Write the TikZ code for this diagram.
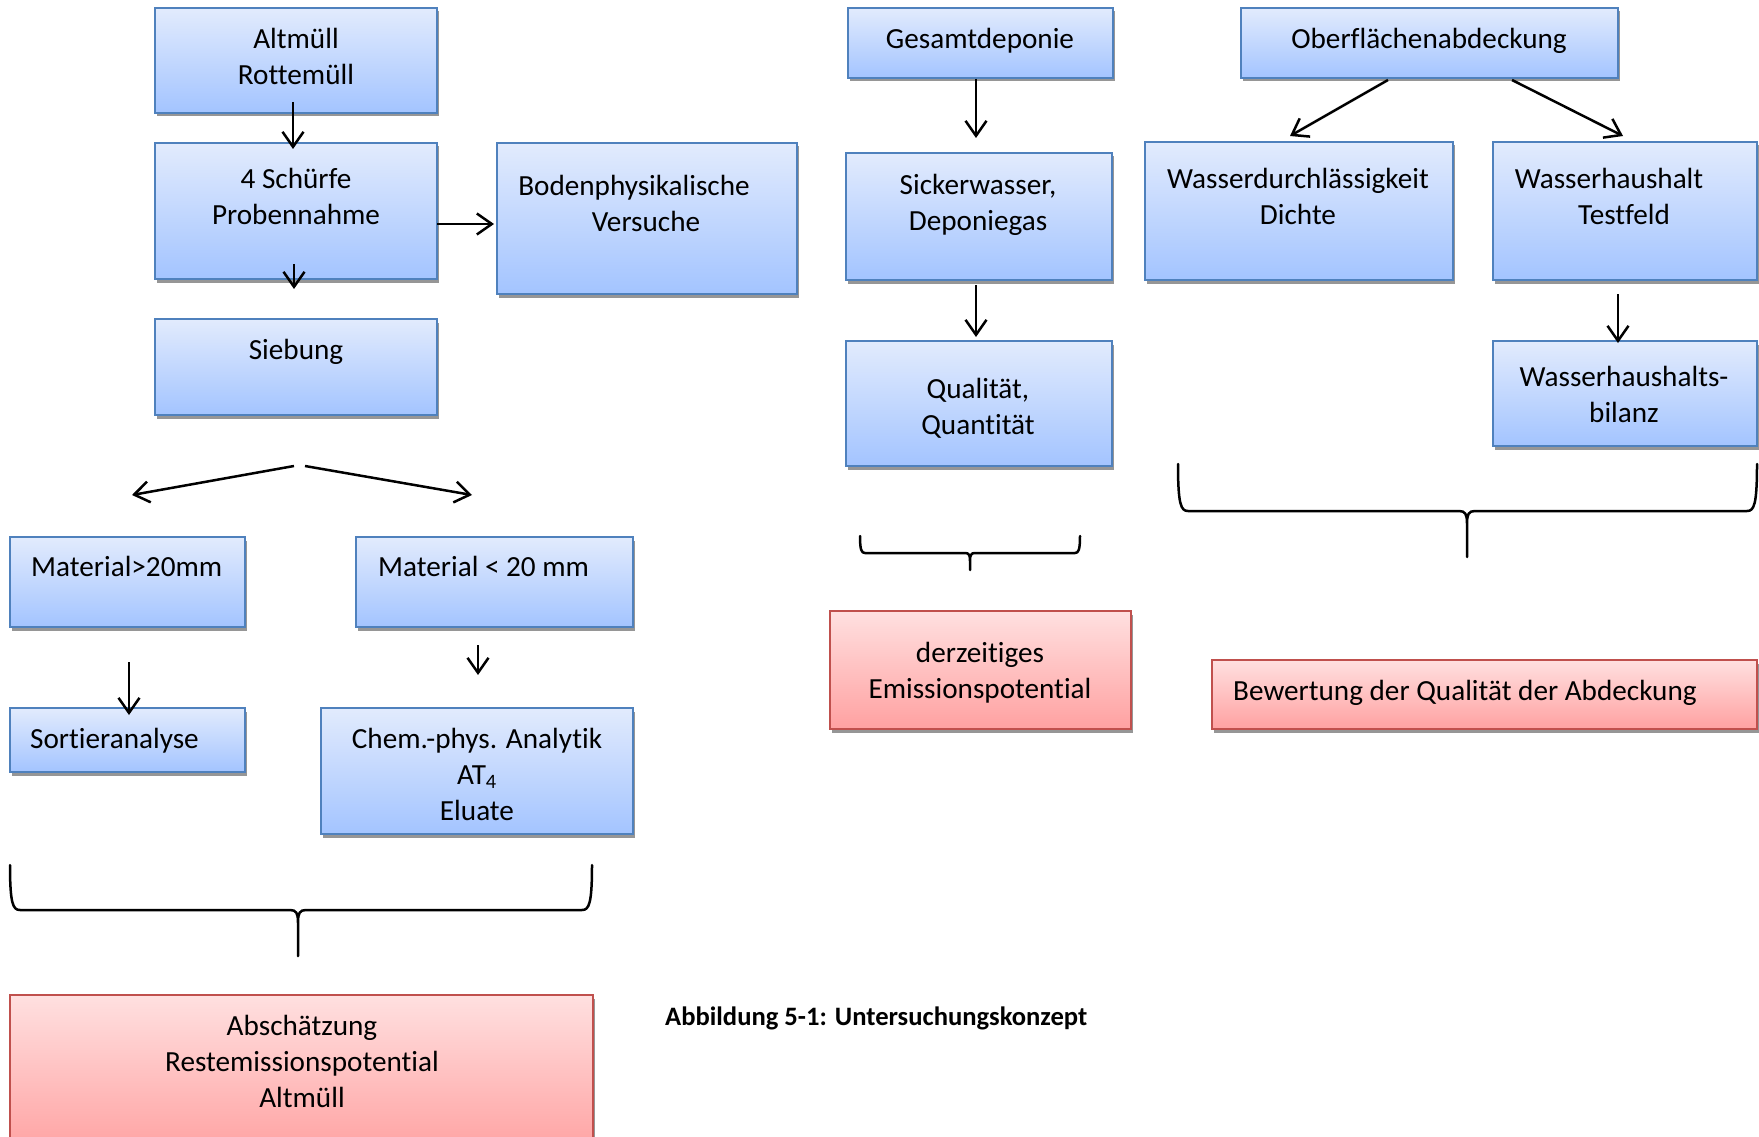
\documentclass[tikz,border=0pt]{standalone}
\usepackage{fontspec}
\setmainfont[Ligatures=NoCommon]{Carlito}
\usetikzlibrary{arrows.meta,calc,shadows}

\definecolor{boxline}{RGB}{79,129,189}
\definecolor{boxtop}{RGB}{226,235,253}
\definecolor{boxbot}{RGB}{163,196,255}
\definecolor{redline}{RGB}{192,80,77}
\definecolor{redtop}{RGB}{255,224,224}
\definecolor{redbot}{RGB}{255,161,161}
\definecolor{shadowgray}{RGB}{150,150,150}

\newcommand{\bodysize}{\fontsize{29.2pt}{36pt}\selectfont}
\newcommand{\captionsize}{\fontsize{26.6pt}{32pt}\selectfont\bfseries}

% curly brace: x-left, x-right, y-top, y-bar, x-tip, y-tip, corner, cusp
\newcommand{\curlybrace}[8]{%
  \draw[brace] (#1,#3) .. controls (#1,{#4-0.6*#7}) and ({#1+0.3*#7},#4) .. ({#1+#7},#4)
    -- ({#5-#8},#4) .. controls ({#5-0.2*#8},#4) and (#5,{#4+0.4*#8}) .. (#5,{#4+1.6*#8})
    -- (#5,#6) -- (#5,{#4+1.6*#8})
    .. controls (#5,{#4+0.4*#8}) and ({#5+0.2*#8},#4) .. ({#5+#8},#4)
    -- ({#2-#7},#4) .. controls ({#2-0.3*#7},#4) and (#2,{#4-0.6*#7}) .. (#2,#3);}

\tikzset{
  panel/.style={draw, line width=2pt, inner sep=0pt, outer sep=0pt, anchor=north west,
    drop shadow={shadow xshift=1.5pt, shadow yshift=-3.5pt, fill=shadowgray, draw=none, opacity=1}},
  bluebox/.style={panel, draw=boxline, top color=boxtop, bottom color=boxbot},
  redbox/.style={panel, draw=redline, top color=redtop, bottom color=redbot},
  txt/.style={anchor=north, inner sep=0pt, align=center, font=\bodysize, text=black},
  ltxt/.style={txt, anchor=north west, align=left},
  arr/.style={line width=2.5pt, -{Straight Barb[length=15pt,width=21pt]}},
  brace/.style={line width=2.5pt, line join=round, line cap=round},
}

\begin{document}
\begin{tikzpicture}[x=1pt,y=-1pt]
\fill[white] (0,0) rectangle (1759,1137);
\useasboundingbox (0,0) rectangle (1759,1137);

% left column
\node[bluebox, minimum width=282pt, minimum height=105pt] (altm) at (155,8) {};
\node[bluebox, minimum width=282pt, minimum height=136pt] (schuerfe) at (155,143) {};
\node[bluebox, minimum width=300pt, minimum height=151pt] (boden) at (497,143) {};
\node[bluebox, minimum width=282pt, minimum height=96pt] (sieb) at (155,319) {};
\node[bluebox, minimum width=235pt, minimum height=90pt] (grob) at (10,537) {};
\node[bluebox, minimum width=277pt, minimum height=90pt] (fein) at (356,537) {};
\node[bluebox, minimum width=235pt, minimum height=64pt] (sort) at (10,708) {};
\node[bluebox, minimum width=312pt, minimum height=126pt] (chem) at (321,708) {};
\node[redbox, minimum width=583pt, minimum height=160pt] (absch) at (10,995) {};

% middle column
\node[bluebox, minimum width=265pt, minimum height=70pt] (gesamt) at (848,8) {};
\node[bluebox, minimum width=266pt, minimum height=127pt] (sicker) at (846,153) {};
\node[bluebox, minimum width=266pt, minimum height=125pt] (qual) at (846,341) {};
\node[redbox, minimum width=301pt, minimum height=118pt] (derz) at (830,611) {};

% right column
\node[bluebox, minimum width=377pt, minimum height=70pt] (ober) at (1241,8) {};
\node[bluebox, minimum width=308pt, minimum height=138pt] (wdurch) at (1145,142) {};
\node[bluebox, minimum width=264pt, minimum height=138pt] (whaus) at (1493,142) {};
\node[bluebox, minimum width=264pt, minimum height=105pt] (bilanz) at (1493,341) {};
\node[redbox, minimum width=545pt, minimum height=69pt] (bewert) at (1212,660) {};

% texts
\node[txt] (altmT) at (296,23) {\strut Altmüll\\Rottemüll};
\node[txt] (schuerfeT) at (296,163) {\strut 4 Schürfe\\Probennahme};
\node[txt] (bodenT) at (634,170) {\strut Bodenphysikalische\\\hspace*{24pt}Versuche};
\node[txt] (siebT) at (296,334) {\strut Siebung};
\node[ltxt] (grobT) at (31,551) {\strut Material>20mm};
\node[ltxt] (feinT) at (378,551) {\strut Material < 20 mm};
\node[ltxt] (sortT) at (30,723) {\strut Sortieranalyse};
\node[txt] (chemT) at (477,723) {\strut Chem.-phys. Analytik\\AT\textsubscript{4}\\Eluate};
\node[txt] (abschT) at (302,1010) {\strut Abschätzung\\Restemissionspotential\\Altmüll};
\node[txt] (gesamtT) at (980,23) {\strut Gesamtdeponie};
\node[txt] (sickerT) at (978,169) {\strut Sickerwasser,\\Deponiegas};
\node[txt] (qualT) at (978,373) {\strut Qualität,\\Quantität};
\node[txt] (derzT) at (980,637) {\strut derzeitiges\\Emissionspotential};
\node[txt] (oberT) at (1429,23) {\strut Oberflächenabdeckung};
\node[txt] (wdurchT) at (1298,163) {\strut Wasserdurchlässigkeit\\Dichte};
\node[txt] (whausT) at (1609,163) {\strut Wasserhaushalt\\\hspace*{30pt}Testfeld};
\node[txt] (bilanzT) at (1624,361) {\strut Wasserhaushalts-\\bilanz};
\node[ltxt] (bewertT) at (1233,675) {\strut Bewertung der Qualität der Abdeckung};
\node[anchor=north west, inner sep=0pt, font=\captionsize] (caption) at (665,1002.6) {\strut Abbildung 5-1: Untersuchungskonzept};

% connectors
\draw[arr] ($(altm.south)+(-3,-11)$) -- ($(schuerfe.north)+(-3,6)$);
\draw[arr] ($(schuerfe.south)+(-2,-15)$) -- ($(sieb.north)+(-2,-30)$);
\draw[arr] ($(schuerfe.east)+(0,13)$) -- ($(boden.west)+(-3,5.5)$);
\draw[arr] ($(sieb.south)+(-2,51)$) -- ($(grob.north)+(4.5,-42)$);
\draw[arr] ($(sieb.south)+(9,51)$) -- ($(fein.north)+(-22.5,-42)$);
\draw[arr] ($(grob.south)+(1.5,35)$) -- ($(sort.north)+(1.5,7)$);
\draw[arr] ($(fein.south)+(-16.5,18)$) -- ($(chem.north)+(1,-33)$);
\draw[arr] ($(gesamt.south)+(-4.5,1)$) -- ($(sicker.north)+(-3,-15)$);
\draw[arr] ($(sicker.south)+(-3,5)$) -- ($(qual.north)+(-3,-4)$);
\draw[arr] ($(ober.south)+(-41.5,2)$) -- ($(wdurch.north)+(-9,-6)$);
\draw[arr] ($(ober.south)+(82.5,2)$) -- ($(whaus.north)+(-2,-6)$);
\draw[arr] ($(whaus.south)+(-7,14)$) -- ($(bilanz.north)+(-7,2)$);

% braces
\curlybrace{10}{592}{865}{910}{298}{956}{10}{8}
\curlybrace{860}{1080}{536}{553}{970}{570}{5}{5}
\curlybrace{1178}{1757}{464}{511}{1467}{557}{10}{8}
\end{tikzpicture}
\end{document}
